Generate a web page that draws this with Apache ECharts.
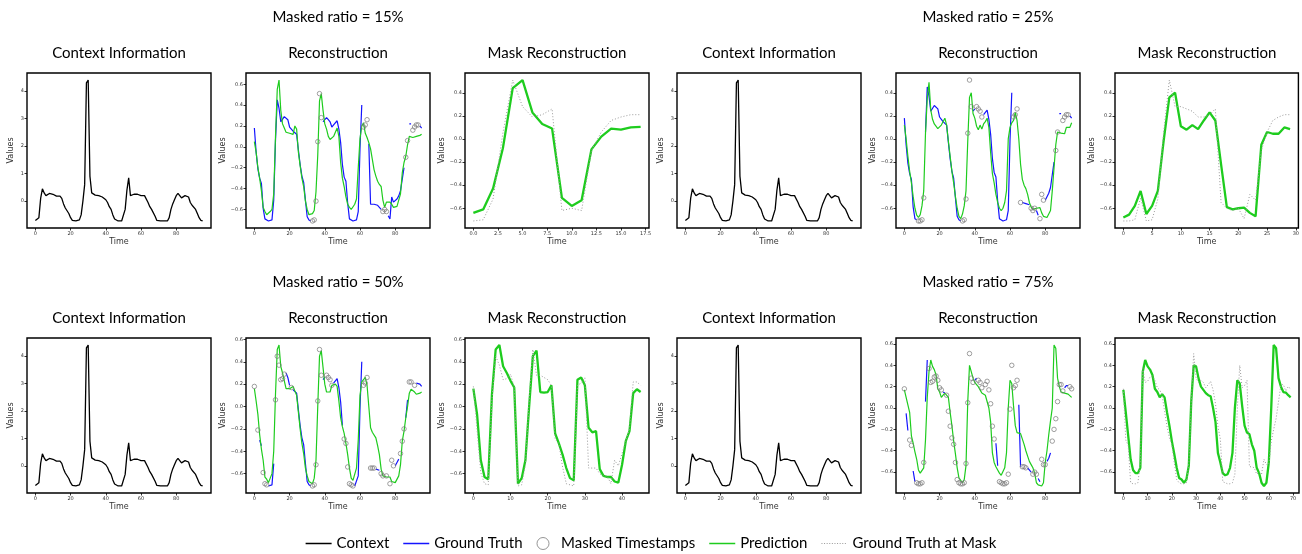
<!DOCTYPE html>
<html>
<head>
<meta charset="utf-8">
<script src="https://cdn.jsdelivr.net/npm/echarts@6/dist/echarts.min.js"></script>
<style>
  html, body { margin: 0; padding: 0; background: #fff; }
  #chart { width: 1302px; height: 554px; }
</style>
</head>
<body>
<div id="chart"></div>
<script>
// context window (same in every group)
var context = [
  -0.70, -0.70, -0.60, 0.10, 0.45, 0.30, 0.20, 0.25, 0.28, 0.28,
  0.25, 0.20, 0.18, 0.17, 0.18, 0.10, -0.10, -0.25, -0.35, -0.45,
  -0.60, -0.70, -0.72, -0.72, -0.72, -0.68, -0.50, 0.00, 0.60, 4.30,
  4.40, 0.90, 0.30, 0.25, 0.22, 0.20, 0.20, 0.20, 0.15, 0.10,
  0.05, -0.05, -0.20, -0.30, -0.50, -0.65, -0.72, -0.72, -0.72, -0.72,
  -0.65, -0.30, 0.40, 0.85, 0.20, 0.22, 0.25, 0.22, 0.25, 0.22,
  0.20, 0.22, 0.20, 0.20, -0.05, -0.20, -0.30, -0.35, -0.55, -0.70,
  -0.72, -0.72, -0.72, -0.72, -0.72, -0.72, -0.60, -0.30, -0.10, 0.05,
  0.20, 0.28, 0.20, 0.12, 0.12, 0.20, 0.25, 0.15, -0.05, -0.15,
  -0.20, -0.30, -0.45, -0.60, -0.70, -0.72
];

// target window ground truth (same in every group)
var groundTruth = [
  0.18, -0.05, -0.21, -0.30, -0.35, -0.59, -0.69, -0.70, -0.71, -0.71,
  -0.70, -0.51, 0.06, 0.45, 0.37, 0.24, 0.25, 0.29, 0.30, 0.26,
  0.19, 0.17, 0.15, 0.14, 0.12, -0.03, -0.17, -0.28, -0.34, -0.51,
  -0.67, -0.70, -0.71, -0.71, -0.70, -0.52, 0.05, 0.51, 0.28, 0.24,
  0.26, 0.28, 0.26, 0.24, 0.19, 0.21, 0.22, 0.25, 0.17, 0.04,
  -0.17, -0.29, -0.33, -0.54, -0.69, -0.70, -0.71, -0.71, -0.70, -0.62,
  -0.01, 0.40, 0.19, 0.21, 0.26, 0.03, -0.55, -0.55, -0.55, -0.56,
  -0.56, -0.57, -0.60, -0.62, -0.60, -0.62, -0.66, -0.69, -0.48, -0.53,
  -0.53, -0.50, -0.47, -0.42, -0.31, -0.20, -0.10, 0.06, 0.22, 0.22,
  0.16, 0.19, 0.21, 0.21, 0.20, 0.18
];

var ratioNames = ['15%', '25%', '50%', '75%'];

var masked15 = [33, 34, 35, 36, 37, 38, 62, 63, 64, 73, 74, 75, 86, 87, 90, 91, 92, 93];
var masked25 = [8, 9, 10, 11, 33, 34, 35, 36, 37, 38, 41, 42, 43, 44, 62, 63, 64, 66,
  72, 73, 74, 77, 78, 79, 86, 87, 90, 91, 92, 93];
var masked50 = [0, 2, 5, 6, 7, 12, 13, 14, 15, 16, 17, 21, 33, 34, 35, 36, 37, 38, 41, 42,
  43, 44, 51, 52, 53, 54, 55, 56, 62, 63, 64, 66, 67, 68, 72, 73, 75, 77, 78, 79,
  83, 84, 85, 88, 89, 91];
var masked75 = [0, 3, 4, 7, 8, 9, 10, 11, 14, 15, 16, 17, 18, 19, 20, 21, 24, 25, 26, 27,
  28, 29, 30, 31, 32, 33, 34, 35, 36, 37, 38, 39, 42, 43, 44, 46, 47, 48, 49, 50,
  51, 54, 55, 56, 57, 58, 59, 60, 61, 62, 63, 64, 67, 68, 69, 73, 74, 75, 78, 79,
  80, 84, 85, 86, 87, 88, 89, 90, 94, 95];

var pred15 = [
  0.05, -0.05, -0.20, -0.30, -0.42, -0.58, -0.62, -0.65, -0.64, -0.62,
  -0.60, -0.45, 0.10, 0.55, 0.64, 0.35, 0.22, 0.18, 0.14, 0.13,
  0.13, 0.13, 0.12, 0.20, 0.17, -0.05, -0.18, -0.30, -0.38, -0.52,
  -0.60, -0.65, -0.65, -0.64, -0.61, -0.43, -0.08, 0.44, 0.51, 0.35,
  0.22, 0.17, 0.10, 0.07, 0.08, 0.10, 0.14, 0.18, 0.10, -0.15,
  -0.30, -0.38, -0.48, -0.55, -0.58, -0.60, -0.59, -0.55, -0.50, -0.20,
  0.08, 0.20, 0.23, 0.13, 0.09, 0.04, -0.02, -0.12, -0.22, -0.28,
  -0.33, -0.36, -0.38, -0.51, -0.58, -0.53, -0.52, -0.53, -0.55, -0.58,
  -0.58, -0.57, -0.57, -0.45, -0.25, -0.15, -0.09, 0.02, 0.10, 0.10,
  0.09, 0.08, 0.10, 0.105, 0.11, 0.12
];
var pred25 = [
  0.12, 0.00, -0.15, -0.28, -0.38, -0.50, -0.60, -0.66, -0.68, -0.655,
  -0.58, -0.45, 0.05, 0.35, 0.49, 0.25, 0.17, 0.13, 0.12, 0.09,
  0.10, 0.12, 0.12, 0.18, 0.12, -0.02, -0.15, -0.28, -0.38, -0.50,
  -0.60, -0.67, -0.69, -0.65, -0.58, -0.45, -0.02, 0.36, 0.40, 0.22,
  0.18, 0.11, 0.08, 0.12, 0.085, 0.13, 0.15, 0.18, 0.10, -0.12,
  -0.30, -0.38, -0.48, -0.55, -0.60, -0.62, -0.60, -0.55, -0.45, 0.00,
  0.10, 0.14, 0.16, 0.23, 0.16, 0.00, -0.22, -0.35, -0.40, -0.43,
  -0.48, -0.55, -0.59, -0.61, -0.60, -0.60, -0.59, -0.595, -0.64, -0.67,
  -0.68, -0.68, -0.67, -0.62, -0.45, -0.25, -0.05, 0.06, 0.05, 0.05,
  0.045, 0.045, 0.10, 0.085, 0.10, 0.14
];
var pred50 = [
  0.16, 0.05, -0.07, -0.25, -0.38, -0.48, -0.63, -0.65, -0.68, -0.64,
  -0.60, -0.40, 0.11, 0.51, 0.55, 0.36, 0.30, 0.23, 0.16, 0.15,
  0.16, 0.17, 0.18, 0.17, 0.10, -0.05, -0.20, -0.33, -0.42, -0.55,
  -0.62, -0.67, -0.68, -0.69, -0.64, -0.48, 0.00, 0.45, 0.50, 0.35,
  0.20, 0.13, 0.125, 0.13, 0.19, 0.18, 0.20, 0.18, 0.05, -0.10,
  -0.18, -0.24, -0.33, -0.43, -0.55, -0.64, -0.66, -0.65, -0.55, -0.30,
  0.10, 0.22, 0.24, 0.26, 0.19, 0.00, -0.19, -0.23, -0.22, -0.28,
  -0.35, -0.43, -0.56, -0.62, -0.62, -0.63, -0.62, -0.63, -0.67, -0.68,
  -0.68, -0.67, -0.62, -0.52, -0.31, -0.22, -0.10, 0.00, 0.12, 0.155,
  0.14, 0.13, 0.11, 0.11, 0.12, 0.13
];
var pred75 = [
  0.17, 0.10, 0.03, -0.04, -0.26, -0.33, -0.41, -0.48, -0.58, -0.61,
  -0.61, -0.56, -0.30, 0.10, 0.34, 0.45, 0.39, 0.36, 0.31, 0.18,
  0.15, 0.10, 0.12, 0.14, 0.13, 0.10, -0.04, -0.165, -0.31, -0.43,
  -0.56, -0.655, -0.67, -0.70, -0.67, -0.54, 0.06, 0.40, 0.39, 0.28,
  0.24, 0.22, 0.20, 0.17, 0.14, 0.13, 0.12, 0.11, 0.00, -0.13,
  -0.42, -0.51, -0.55, -0.58, -0.61, -0.63, -0.62, -0.56, -0.42, 0.00,
  0.26, 0.23, 0.02, -0.165, -0.23, -0.24, -0.24, -0.245, -0.34, -0.40,
  -0.45, -0.50, -0.53, -0.56, -0.61, -0.70, -0.72, -0.73, -0.73, -0.70,
  -0.51, -0.40, -0.25, -0.12, 0.00, 0.59, 0.56, 0.28, 0.20, 0.15,
  0.145, 0.14, 0.14, 0.13, 0.12, 0.10
];

var maskedSets = [masked15, masked25, masked50, masked75];
var predSets = [pred15, pred25, pred50, pred75];
// tick steps of the mask-reconstruction x axes
var maskXSteps = [2.5, 5, 10, 10];

var C_CONTEXT = '#000000', C_GT = '#1414ff', C_PRED = '#1ecc1e', C_MARK = '#7a7a7a', C_DOT = '#9a9a9a';
var FONT = 'Lato';
var W = 184, H = 155;
var colLefts = [27, 246, 465];
var rowTops = [73, 338];

var grids = [], xAxes = [], yAxes = [], series = [], texts = [];

function pad(lo, hi) {
  var m = (hi - lo) * 0.05;
  return [lo - m, hi + m];
}
function minMax(arr) {
  var lo = Infinity, hi = -Infinity;
  arr.forEach(function (v) {
    if (v == null) return;
    if (v < lo) lo = v;
    if (v > hi) hi = v;
  });
  return [lo, hi];
}
function ticksIn(r, step) {
  var out = [];
  for (var k = Math.ceil(r[0] / step - 1e-9); k * step <= r[1] + 1e-9; k++) out.push(+(k * step).toFixed(6));
  return out;
}
function fmt(dec) {
  return function (v) {
    return (v < 0 ? '\u2212' : '') + Math.abs(v).toFixed(dec);
  };
}
function decimals(step) {
  return step % 1 === 0 ? 0 : 1;
}

function addPanel(left, top, xr, xStep, yr, yStep, title) {
  var gi = grids.length;
  grids.push({
    left: left, top: top, width: W, height: H,
    show: true, borderColor: '#000', borderWidth: 1.4, backgroundColor: '#fff'
  });
  var xt = ticksIn(xr, xStep), yt = ticksIn(yr, yStep);
  var labelStyle = { fontSize: 5, color: '#333', fontFamily: 'DejaVu Sans' };
  xAxes.push({
    gridIndex: gi, type: 'value', min: xr[0], max: xr[1],
    axisLine: { show: false, onZero: false },
    axisTick: { show: true, length: 2.5, lineStyle: { color: '#000', width: 0.8 }, customValues: xt },
    axisLabel: Object.assign({ margin: 3, customValues: xt, formatter: fmt(decimals(xStep)) }, labelStyle),
    splitLine: { show: false },
    name: 'Time', nameLocation: 'middle', nameGap: 10,
    nameTextStyle: { fontSize: 8, color: '#333', fontFamily: 'DejaVu Sans' }
  });
  yAxes.push({
    gridIndex: gi, type: 'value', min: yr[0], max: yr[1],
    axisLine: { show: false, onZero: false },
    axisTick: { show: true, length: 2.5, lineStyle: { color: '#000', width: 0.8 }, customValues: yt },
    axisLabel: Object.assign({ margin: 3, customValues: yt, formatter: fmt(decimals(yStep)) }, labelStyle),
    splitLine: { show: false },
    name: 'Values', nameLocation: 'middle', nameGap: 12, nameRotate: 90,
    nameTextStyle: { fontSize: 8, color: '#333', fontFamily: 'DejaVu Sans' }
  });
  texts.push({
    type: 'text', x: left + W / 2, y: top - 20,
    style: { text: title, fontSize: 15, fontFamily: FONT, fill: '#000', align: 'center', verticalAlign: 'middle' }
  });
  return gi;
}

function lineSeries(name, gi, data, color, width, extra) {
  return Object.assign({
    name: name, type: 'line', xAxisIndex: gi, yAxisIndex: gi,
    data: data, showSymbol: false, symbol: 'none', connectNulls: false,
    lineStyle: { color: color, width: width }, itemStyle: { color: color },
    animation: false, silent: true
  }, extra || {});
}

ratioNames.forEach(function (ratio, g) {
  var shift = (g % 2) * 650;
  var top = rowTops[Math.floor(g / 2)];
  var masked = maskedSets[g], pred = predSets[g];

  texts.push({
    type: 'text', x: colLefts[1] + shift + W / 2, y: top - 56,
    style: { text: 'Masked ratio = ' + ratio, fontSize: 15, fontFamily: FONT, fill: '#000', align: 'center', verticalAlign: 'middle' }
  });

  // context
  var cr = minMax(context);
  var gi = addPanel(colLefts[0] + shift, top, pad(0, context.length - 1), 20, pad(cr[0], cr[1]), 1, 'Context Information');
  series.push(lineSeries('Context', gi, context.map(function (v, i) { return [i, v]; }), C_CONTEXT, 1.3));

  // reconstruction
  var isMasked = {};
  masked.forEach(function (t) { isMasked[t] = true; });
  var gtData = groundTruth.map(function (v, i) { return [i, isMasked[i] ? null : v]; });
  var markData = masked.map(function (t) { return [t, groundTruth[t]]; });
  var rr = minMax(groundTruth.concat(pred));
  gi = addPanel(colLefts[1] + shift, top, pad(0, groundTruth.length - 1), 20, pad(rr[0], rr[1]), 0.2, 'Reconstruction');
  series.push(lineSeries('Ground Truth', gi, gtData, C_GT, 1.2, { z: 2 }));
  series.push(lineSeries('Prediction', gi, pred.map(function (v, i) { return [i, v]; }), C_PRED, 1.2, { z: 3 }));
  series.push({
    name: 'Masked Timestamps', type: 'scatter', xAxisIndex: gi, yAxisIndex: gi,
    data: markData, symbol: 'circle', symbolSize: 4.5,
    itemStyle: { color: 'rgba(0,0,0,0)', borderColor: C_MARK, borderWidth: 0.9 },
    z: 4, animation: false, silent: true
  });

  // mask reconstruction
  var mPred = masked.map(function (t, k) { return [k, pred[t]]; });
  var mTrue = masked.map(function (t, k) { return [k, groundTruth[t]]; });
  var mr = minMax(mPred.map(function (p) { return p[1]; }).concat(mTrue.map(function (p) { return p[1]; })));
  gi = addPanel(colLefts[2] + shift, top, pad(0, masked.length - 1), maskXSteps[g], pad(mr[0], mr[1]), 0.2, 'Mask Reconstruction');
  series.push(lineSeries('Prediction', gi, mPred, C_PRED, 2.3, { z: 3 }));
  series.push(lineSeries('Ground Truth at Mask', gi, mTrue, C_DOT, 1, { z: 4, lineStyle: { color: C_DOT, width: 1, type: [1, 2] } }));
});

// legend glyphs: a short horizontal stroke inside a 26x12 box
var solidIcon = 'path://M0,0L26,0ZM0,5.3H26V6.7H0ZM0,12L26,12Z';
var dotIcon = 'path://M0,0L26,0ZM0,12L26,12Z';
for (var d = 0; d < 26; d += 2.6) dotIcon += 'M' + d.toFixed(1) + ',5.5h1v1h-1Z';

var chart = echarts.init(document.getElementById('chart'), null, { renderer: 'canvas' });
chart.setOption({
  backgroundColor: '#fff',
  animation: false,
  grid: grids,
  xAxis: xAxes,
  yAxis: yAxes,
  series: series,
  graphic: { elements: texts },
  legend: {
    top: 531, left: 'center',
    itemWidth: 26, itemHeight: 12, itemGap: 14,
    textStyle: { fontSize: 15, fontFamily: FONT, color: '#000' },
    selectedMode: false,
    data: [
      { name: 'Context', icon: solidIcon, itemStyle: { color: C_CONTEXT } },
      { name: 'Ground Truth', icon: solidIcon, itemStyle: { color: C_GT } },
      { name: 'Masked Timestamps', icon: 'circle', itemStyle: { color: 'rgba(0,0,0,0)', borderColor: C_MARK, borderWidth: 1 } },
      { name: 'Prediction', icon: solidIcon, itemStyle: { color: C_PRED } },
      { name: 'Ground Truth at Mask', icon: dotIcon, itemStyle: { color: C_DOT } }
    ]
  }
});
</script>
</body>
</html>
